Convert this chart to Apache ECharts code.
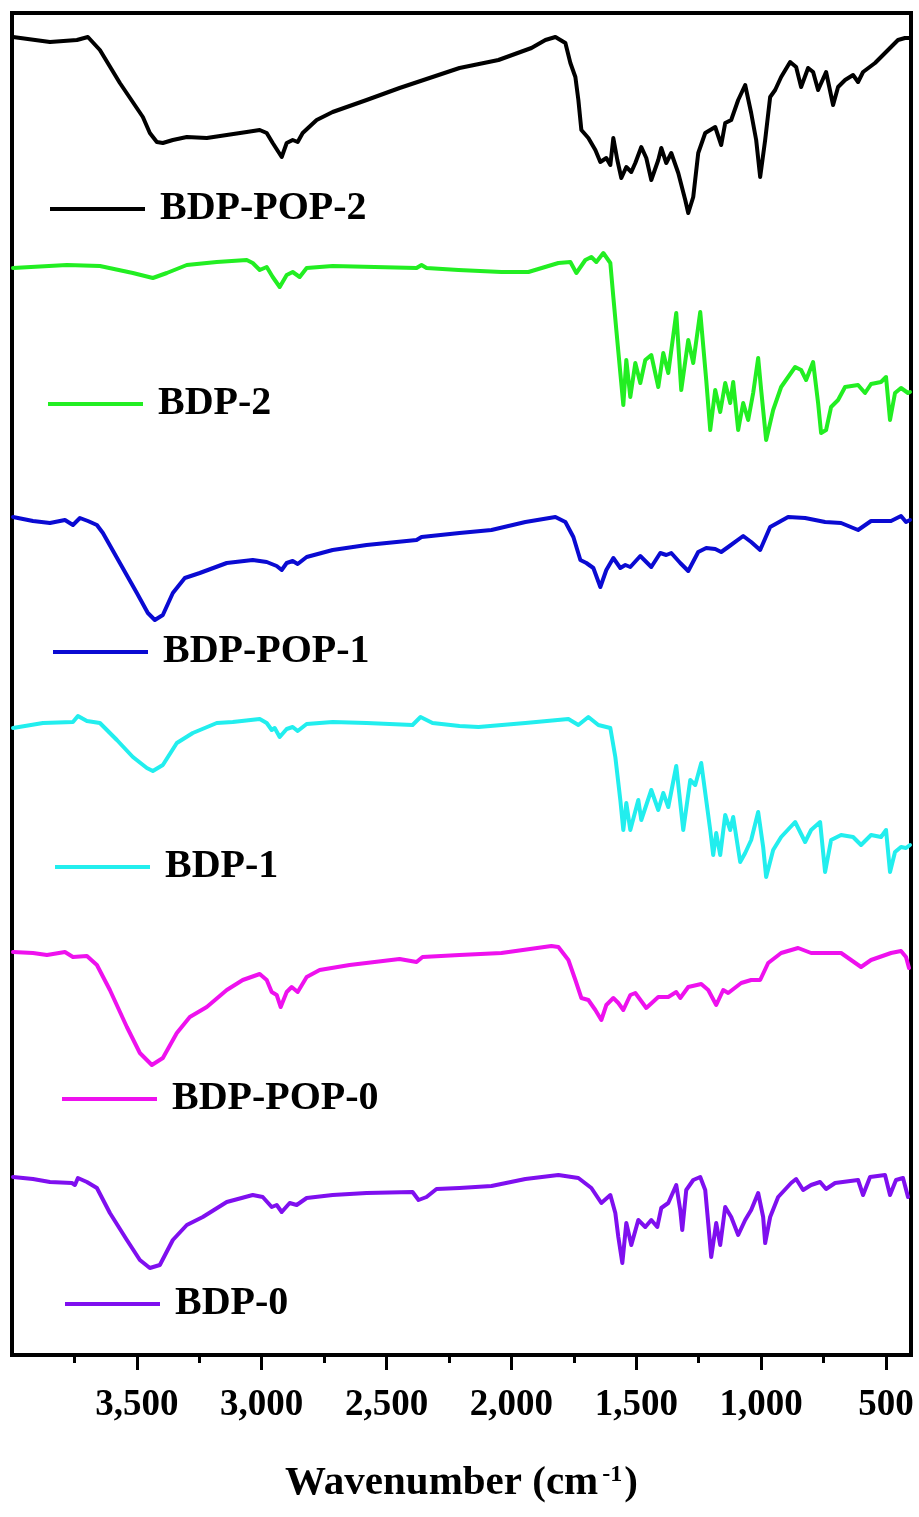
<!DOCTYPE html>
<html>
<head>
<meta charset="utf-8">
<script src="https://cdn.jsdelivr.net/npm/echarts@6/dist/echarts.min.js"></script>
<style>
html,body{margin:0;padding:0;background:#fff;}
#chart{width:919px;height:1517px;}
</style>
</head>
<body>
<div id="chart"></div>
<script>
// ---- data (wavenumber in cm-1, offset transmittance in a.u.) ----
const seriesNames = ['BDP-POP-2', 'BDP-2', 'BDP-POP-1', 'BDP-1', 'BDP-POP-0', 'BDP-0'];
const seriesColors = ['#000000', '#22ee22', '#0a0ad2', '#22eeee', '#ee11ee', '#7f0fef'];
const tickValues = [3500, 3000, 2500, 2000, 1500, 1000, 500];
const minorTickValues = [3750, 3250, 2750, 2250, 1750, 1250, 750];

const pop2W = [3996,3848,3740,3696,3648,3568,3476,3448,3420,3396,3356,3300,3220,3140,3060,3008,2980,2956,2920,2900,2876,2856,2836,2780,2716,2580,2448,2316,2208,2052,1920,1864,1824,1784,1764,1744,1732,1720,1692,1664,1644,1620,1604,1592,1576,1560,1540,1520,1504,1480,1460,1440,1412,1400,1380,1360,1332,1304,1292,1272,1252,1224,1184,1160,1144,1120,1092,1064,1040,1020,1004,984,964,944,920,884,860,840,812,792,772,740,712,692,664,632,612,592,544,492,452,424,400];
const pop2T = [1318,1313,1315,1318,1305,1272,1238,1222,1213,1212,1215,1218,1217,1220,1223,1225,1222,1212,1198,1212,1215,1213,1222,1235,1243,1255,1267,1278,1287,1295,1307,1315,1318,1312,1292,1278,1255,1225,1217,1205,1193,1197,1190,1217,1195,1177,1188,1183,1192,1208,1197,1175,1195,1207,1192,1202,1182,1155,1142,1158,1202,1222,1228,1210,1232,1235,1255,1270,1242,1215,1178,1215,1258,1265,1278,1293,1288,1268,1287,1283,1265,1283,1250,1268,1275,1280,1273,1283,1292,1305,1315,1317,1317];

const bdp2W = [3996,3780,3648,3516,3436,3380,3300,3180,3060,3036,3008,2980,2956,2928,2900,2876,2848,2820,2716,2380,2360,2340,2212,2040,1932,1812,1764,1740,1704,1680,1660,1632,1604,1592,1580,1564,1552,1540,1524,1504,1484,1464,1440,1412,1392,1372,1340,1320,1292,1272,1244,1220,1204,1184,1164,1144,1124,1112,1092,1072,1052,1032,1012,1000,980,952,920,864,840,820,792,772,760,740,720,692,664,612,584,560,520,500,484,464,440,412,404];
const bdp2T = [1087,1090,1089,1082,1077,1082,1090,1093,1095,1092,1085,1088,1078,1068,1080,1083,1078,1087,1089,1087,1090,1087,1085,1083,1083,1092,1093,1082,1095,1098,1093,1102,1092,1058,1025,982,950,995,958,992,972,995,1000,968,1002,982,1042,965,1015,992,1043,975,925,965,943,972,952,973,925,952,935,962,997,965,915,945,968,988,985,975,993,952,922,925,948,955,968,970,962,971,973,978,935,962,967,962,963];

const pop1W = [3996,3916,3848,3788,3756,3728,3696,3660,3636,3568,3500,3456,3428,3396,3356,3308,3248,3140,3036,2980,2940,2920,2900,2876,2856,2820,2716,2580,2380,2360,2208,2080,1944,1824,1784,1752,1724,1700,1672,1644,1620,1592,1564,1544,1524,1484,1440,1404,1380,1360,1324,1292,1252,1220,1184,1160,1132,1072,1040,1004,964,892,824,744,680,612,560,480,440,420,404];
const pop1T = [838,834,832,835,830,837,834,830,822,792,762,742,735,740,762,777,782,792,795,793,789,785,792,794,791,798,805,810,815,818,822,825,833,838,833,818,795,792,787,768,785,797,787,790,788,799,788,802,800,802,792,784,803,807,806,803,808,819,813,805,828,838,837,833,832,825,834,834,839,833,835];

const bdp1W = [3996,3876,3756,3736,3700,3648,3580,3516,3460,3436,3396,3340,3276,3180,3116,3008,2980,2960,2948,2928,2900,2876,2856,2820,2716,2580,2396,2364,2316,2208,2132,1944,1772,1732,1692,1652,1604,1584,1564,1552,1540,1524,1492,1480,1440,1412,1392,1372,1340,1312,1284,1264,1240,1204,1192,1180,1164,1144,1124,1112,1084,1064,1040,1012,992,980,952,920,864,824,800,764,744,720,680,632,600,560,520,500,484,464,440,420,404];
const bdp1T = [627,632,633,639,634,632,615,598,587,584,590,612,622,632,633,636,632,625,627,618,626,628,624,631,633,632,630,638,632,629,628,632,636,630,638,630,627,598,555,525,552,525,555,535,565,545,562,548,589,525,575,570,592,525,500,522,500,540,525,538,493,502,515,543,508,478,505,518,533,513,525,533,483,515,520,518,510,520,518,525,483,503,508,507,510];

const pop0W = [3996,3916,3860,3788,3756,3700,3660,3608,3540,3488,3440,3396,3340,3288,3220,3140,3076,3008,2980,2960,2940,2924,2900,2880,2856,2820,2768,2648,2448,2380,2356,2208,2040,1840,1812,1772,1744,1720,1692,1664,1640,1620,1592,1572,1552,1524,1504,1460,1412,1372,1340,1324,1292,1240,1212,1180,1152,1132,1080,1040,1004,972,920,852,800,680,600,560,480,440,420,408];
const pop0T = [403,402,400,403,398,399,390,365,328,302,290,297,322,338,348,365,375,381,375,363,360,348,363,368,363,378,385,390,396,393,398,400,402,409,408,395,375,357,355,345,335,350,357,352,345,360,362,347,358,358,363,357,368,371,365,350,365,362,372,375,375,392,402,407,402,402,388,395,402,404,398,387];

const bdp0W = [3996,3916,3848,3760,3748,3736,3700,3660,3608,3540,3488,3448,3408,3356,3300,3236,3140,3036,2996,2960,2940,2920,2888,2860,2820,2716,2580,2396,2372,2340,2300,2208,2080,1944,1812,1732,1680,1640,1604,1584,1572,1556,1540,1520,1492,1464,1440,1416,1400,1372,1340,1324,1316,1300,1272,1244,1224,1212,1200,1180,1164,1144,1120,1092,1064,1040,1012,992,984,964,932,880,860,832,800,764,740,704,612,592,564,504,484,460,432,412];
const bdp0T = [178,176,173,172,170,177,173,167,142,115,95,87,90,115,130,138,153,160,158,148,150,143,152,150,157,160,162,163,155,158,166,167,169,176,180,177,167,152,160,142,118,92,132,110,135,128,135,128,147,152,170,145,125,165,175,178,165,132,98,132,110,148,138,120,135,145,162,138,112,138,158,172,176,165,170,173,166,172,175,160,178,180,160,175,177,158];

// ---- build ----
const xs = [pop2W, bdp2W, pop1W, bdp1W, pop0W, bdp0W];
const ys = [pop2T, bdp2T, pop1T, bdp1T, pop0T, bdp0T];
function pairs(w, t) {
  const n = Math.min(w.length, t.length);
  const out = [];
  for (let i = 0; i < n; i++) out.push([w[i], t[i]]);
  return out;
}
const FONT = "'Liberation Serif', 'Times New Roman', serif";

// legend positions (line left, vertical centre)
const legendPos = [[50, 210], [48, 405], [53, 653], [55, 868], [62, 1100], [65, 1305]];

const chart = echarts.init(document.getElementById('chart'), null, {renderer: 'canvas'});
const option = {
  animation: false,
  backgroundColor: '#ffffff',
  grid: {left: 12, right: 8, top: 13, bottom: 162, show: true, borderColor: '#000', borderWidth: 4, backgroundColor: 'transparent'},
  legend: seriesNames.map((n, i) => ({
    data: [n],
    left: legendPos[i][0],
    top: legendPos[i][1] - 21,
    icon: 'rect',
    itemWidth: 95,
    itemHeight: 4,
    padding: 0,
    selectedMode: false,
    textStyle: {fontSize: 40, fontWeight: 'bold', fontFamily: FONT, color: '#000', padding: [0, 0, 0, 10]}
  })),
  xAxis: [
    {
      type: 'value', min: 400, max: 4000, inverse: true, position: 'bottom',
      axisLine: {show: true, onZero: false, lineStyle: {color: '#000', width: 4}},
      axisTick: {show: true, inside: false, length: 15, customValues: tickValues, lineStyle: {color: '#000', width: 3}},
      axisLabel: {show: true, customValues: tickValues, fontSize: 37, fontWeight: 'bold', fontFamily: FONT, color: '#000', margin: 32},
      splitLine: {show: false},
      name: 'Wavenumber (cm{sup|-1})',
      nameLocation: 'middle',
      nameGap: 108,
      nameTextStyle: {
        fontSize: 41, fontWeight: 'bold', fontFamily: FONT, color: '#000',
        rich: {sup: {fontSize: 24, fontWeight: 'bold', fontFamily: FONT, color: '#000', verticalAlign: 'top', padding: [0, 2, 0, 4]}}
      }
    },
    {
      type: 'value', min: 400, max: 4000, inverse: true, position: 'bottom', gridIndex: 0,
      axisLine: {show: false},
      axisTick: {show: true, inside: false, length: 8, customValues: minorTickValues, lineStyle: {color: '#000', width: 3}},
      axisLabel: {show: false},
      splitLine: {show: false}
    }
  ],
  yAxis: {type: 'value', min: 0, max: 1342, show: false},
  series: seriesNames.map((n, i) => ({
    name: n,
    type: 'line',
    xAxisIndex: 0,
    showSymbol: false,
    symbol: 'none',
    color: seriesColors[i],
    lineStyle: {color: seriesColors[i], width: 4, join: 'round', cap: 'round'},
    data: pairs(xs[i], ys[i])
  }))
};
chart.setOption(option);
</script>
</body>
</html>
